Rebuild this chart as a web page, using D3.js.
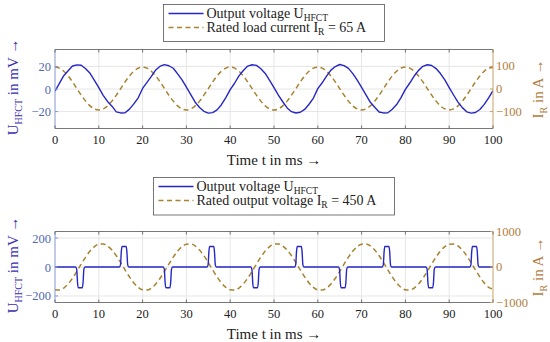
<!DOCTYPE html>
<html>
<head>
<meta charset="utf-8">
<script src="https://cdn.jsdelivr.net/npm/d3@7"></script>
<style>
  body { margin: 0; background: #fff; }
  svg { display: block; font-family: "Liberation Serif", serif; }
</style>
</head>
<body>
<svg id="chart" width="550" height="342"></svg>
<script>
// time grid in ms (x positions of the sampled curves)
var timeMs = d3.range(0, 101, 1);

// top panel: HFCT output voltage (mV), read every 1 ms
var voltageTop = [
  -2.0, 5.0, 11.8, 16.2, 20.4, 21.4, 21.0, 18.0, 13.9, 7.6, 1.2, -5.6, -11.0, -15.2, -20.3, -21.2, -21.0, -17.8, -13.2, -7.8,
  0.5, 5.8, 11.2, 16.9, 20.2, 21.6, 20.6, 18.4, 13.4, 8.1, 1.6, -5.0, -11.7, -16.4, -19.8, -21.4, -20.9, -18.5, -13.9, -7.6,
  -0.5, 5.1, 11.6, 16.4, 20.3, 21.5, 20.9, 17.9, 13.8, 7.7, 1.2, -5.4, -11.3, -16.8, -20.1, -21.3, -20.6, -18.1, -13.5, -8.0,
  0.3, 5.5, 11.4, 16.7, 19.9, 21.7, 20.7, 18.3, 13.6, 7.9, 1.5, -5.2, -11.8, -16.1, -20.4, -21.2, -21.0, -18.0, -13.8, -7.7,
  -0.4, 5.3, 11.5, 16.5, 20.1, 21.5, 20.8, 18.1, 13.7, 8.0, 1.3, -5.3, -11.6, -16.5, -20.2, -21.4, -20.8, -18.2, -13.6, -7.8,
  -1.5
];

// top panel: rated load current (A), read every 1 ms
var currentTop = [
  97, 92.3, 78.9, 57.8, 31.4, 2, -27.4, -53.8, -74.9, -88.3, -93, -88.3, -74.9, -53.8, -27.4, 2, 31.4, 57.8, 78.9, 92.3,
  97, 92.3, 78.9, 57.8, 31.4, 2, -27.4, -53.8, -74.9, -88.3, -93, -88.3, -74.9, -53.8, -27.4, 2, 31.4, 57.8, 78.9, 92.3,
  97, 92.3, 78.9, 57.8, 31.4, 2, -27.4, -53.8, -74.9, -88.3, -93, -88.3, -74.9, -53.8, -27.4, 2, 31.4, 57.8, 78.9, 92.3,
  97, 92.3, 78.9, 57.8, 31.4, 2, -27.4, -53.8, -74.9, -88.3, -93, -88.3, -74.9, -53.8, -27.4, 2, 31.4, 57.8, 78.9, 92.3,
  97, 92.3, 78.9, 57.8, 31.4, 2, -27.4, -53.8, -74.9, -88.3, -93, -88.3, -74.9, -53.8, -27.4, 2, 31.4, 57.8, 78.9, 92.3,
  95
];

// bottom panel: HFCT output voltage (mV), pulse corner points
var pulseTimes = [
  0,
  4.7, 4.95, 5.15, 5.3, 6.25, 6.4, 6.6, 6.85,
  14.7, 14.95, 15.15, 15.3, 16.25, 16.4, 16.6, 16.85,
  24.7, 24.95, 25.15, 25.3, 26.25, 26.4, 26.6, 26.85,
  34.7, 34.95, 35.15, 35.3, 36.25, 36.4, 36.6, 36.85,
  44.7, 44.95, 45.15, 45.3, 46.25, 46.4, 46.6, 46.85,
  54.7, 54.95, 55.15, 55.3, 56.25, 56.4, 56.6, 56.85,
  64.7, 64.95, 65.15, 65.3, 66.25, 66.4, 66.6, 66.85,
  74.7, 74.95, 75.15, 75.3, 76.25, 76.4, 76.6, 76.85,
  84.7, 84.95, 85.15, 85.3, 86.25, 86.4, 86.6, 86.85,
  94.7, 94.95, 95.15, 95.3, 96.25, 96.4, 96.6, 96.85,
  100
];
var pulseVolts = [
  0,
  0, -15, -110, -143, -143, -110, -15, 0,
  0, 15, 110, 141, 141, 110, 15, 0,
  0, -15, -110, -143, -143, -110, -15, 0,
  0, 15, 110, 141, 141, 110, 15, 0,
  0, -15, -110, -143, -143, -110, -15, 0,
  0, 15, 110, 141, 141, 110, 15, 0,
  0, -15, -110, -143, -143, -110, -15, 0,
  0, 15, 110, 141, 141, 110, 15, 0,
  0, -15, -110, -143, -143, -110, -15, 0,
  0, 15, 110, 141, 141, 110, 15, 0,
  0
];

// bottom panel: rated output current (A), read every 1 ms
var currentBottom = [
  -643, -650, -593, -477, -316, -123, 82, 279, 449, 574, 643, 650, 593, 477, 316, 123, -82, -279, -449, -574,
  -643, -650, -593, -477, -316, -123, 82, 279, 449, 574, 643, 650, 593, 477, 316, 123, -82, -279, -449, -574,
  -643, -650, -593, -477, -316, -123, 82, 279, 449, 574, 643, 650, 593, 477, 316, 123, -82, -279, -449, -574,
  -643, -650, -593, -477, -316, -123, 82, 279, 449, 574, 643, 650, 593, 477, 316, 123, -82, -279, -449, -574,
  -643, -650, -593, -477, -316, -123, 82, 279, 449, 574, 643, 650, 593, 477, 316, 123, -82, -279, -449, -574,
  -620
];

var xTicks = [0, 10, 20, 30, 40, 50, 60, 70, 80, 90, 100];
var leftTicksTop = [-20, 0, 20];
var rightTicksTop = [-100, 0, 100];
var leftTicksBottom = [-200, 0, 200];
var rightTicksBottom = [-1000, 0, 1000];

var BLUE = "#2626c6",
    BROWN = "#a8822e",
    LEFT_TXT = "#4f68b4",
    LEFT_LBL = "#3a30b0",
    LEFT_AX = "#8896cc",
    RIGHT_TXT = "#b07e40",
    RIGHT_AX = "#c9a266",
    FRAME = "#555",
    GRID = "#e6e6e6";

var svg = d3.select("#chart");
var x = d3.scaleLinear().domain([0, 100]).range([55, 493]);

function panel(o) {
  var yl = d3.scaleLinear().domain(o.leftDomain).range([o.bottom, o.top]);
  var yr = d3.scaleLinear().domain(o.rightDomain).range([o.bottom, o.top]);
  var g = svg.append("g");
  var x0 = x.range()[0], x1 = x.range()[1];

  // grid
  g.selectAll(".vg").data(xTicks.slice(1, -1)).enter().append("line")
    .attr("x1", d => x(d)).attr("x2", d => x(d))
    .attr("y1", o.top).attr("y2", o.bottom)
    .attr("stroke", GRID).attr("stroke-width", 1);
  g.selectAll(".hg").data(o.leftTicks).enter().append("line")
    .attr("x1", x0).attr("x2", x1)
    .attr("y1", d => yl(d)).attr("y2", d => yl(d))
    .attr("stroke", GRID).attr("stroke-width", 1);

  // curves
  var clipId = "clip" + o.top;
  svg.append("clipPath").attr("id", clipId).append("rect")
    .attr("x", x0).attr("y", o.top).attr("width", x1 - x0).attr("height", o.bottom - o.top);
  var cg = g.append("g").attr("clip-path", "url(#" + clipId + ")");

  cg.append("path")
    .datum(o.current.map((v, i) => [timeMs[i], v]))
    .attr("fill", "none").attr("stroke", BROWN).attr("stroke-width", 1.5)
    .attr("stroke-dasharray", "5,3.5")
    .attr("d", d3.line().x(d => x(d[0])).y(d => yr(d[1])).curve(d3.curveMonotoneX));

  cg.append("path")
    .datum(o.voltT.map((t, i) => [t, o.voltV[i]]))
    .attr("fill", "none").attr("stroke", BLUE).attr("stroke-width", 1.4)
    .attr("stroke-linejoin", "round")
    .attr("d", d3.line().x(d => x(d[0])).y(d => yl(d[1])).curve(o.voltCurve));

  // frame
  g.append("line").attr("x1", x0).attr("x2", x1).attr("y1", o.top).attr("y2", o.top)
    .attr("stroke", FRAME).attr("stroke-width", 0.8);
  g.append("line").attr("x1", x0).attr("x2", x1).attr("y1", o.bottom).attr("y2", o.bottom)
    .attr("stroke", FRAME).attr("stroke-width", 0.8);
  g.append("line").attr("x1", x0).attr("x2", x0).attr("y1", o.top).attr("y2", o.bottom)
    .attr("stroke", LEFT_AX).attr("stroke-width", 1);
  g.append("line").attr("x1", x1).attr("x2", x1).attr("y1", o.top).attr("y2", o.bottom)
    .attr("stroke", RIGHT_AX).attr("stroke-width", 1);

  // x ticks (inside, top and bottom) + labels
  xTicks.forEach(function (t) {
    g.append("line").attr("x1", x(t)).attr("x2", x(t)).attr("y1", o.bottom).attr("y2", o.bottom - 3)
      .attr("stroke", FRAME).attr("stroke-width", 0.8);
    g.append("line").attr("x1", x(t)).attr("x2", x(t)).attr("y1", o.top).attr("y2", o.top + 3)
      .attr("stroke", FRAME).attr("stroke-width", 0.8);
    g.append("text").attr("x", x(t)).attr("y", o.bottom + 15)
      .attr("text-anchor", "middle").attr("font-size", 12.5).attr("fill", "#222").text(t);
  });
  g.append("text").attr("x", (x0 + x1) / 2).attr("y", o.bottom + 36.5)
    .attr("text-anchor", "middle").attr("font-size", 15).attr("fill", "#222")
    .text("Time t in ms \u2192");

  // left y ticks
  var fmt = d3.format("d");
  o.leftTicks.forEach(function (v) {
    g.append("line").attr("x1", x0).attr("x2", x0 + 3).attr("y1", yl(v)).attr("y2", yl(v))
      .attr("stroke", LEFT_AX).attr("stroke-width", 1);
    g.append("text").attr("x", x0 - 4).attr("y", yl(v) + 4.5)
      .attr("text-anchor", "end").attr("font-size", 12.5).attr("fill", LEFT_TXT).text(fmt(v));
  });
  // right y ticks
  o.rightTicks.forEach(function (v) {
    g.append("line").attr("x1", x1).attr("x2", x1 - 3).attr("y1", yr(v)).attr("y2", yr(v))
      .attr("stroke", RIGHT_AX).attr("stroke-width", 1);
    g.append("text").attr("x", x1 + 3).attr("y", yr(v) + 4)
      .attr("text-anchor", "start").attr("font-size", 12.5).attr("fill", RIGHT_TXT).text(fmt(v));
  });

  // y axis titles
  var cy = (o.top + o.bottom) / 2;
  var lt = g.append("text").attr("transform", "translate(" + o.leftLabelX + "," + (cy - 2) + ") rotate(-90)")
    .attr("text-anchor", "middle").attr("font-size", 15).attr("fill", LEFT_LBL);
  lt.append("tspan").text("U");
  lt.append("tspan").attr("dy", 3.5).attr("font-size", 10).text("HFCT");
  lt.append("tspan").attr("dy", -3.5).text(" in mV \u2192");

  var rt = g.append("text").attr("transform", "translate(" + o.rightLabelX + "," + cy + ") rotate(-90)")
    .attr("text-anchor", "middle").attr("font-size", 15).attr("fill", RIGHT_TXT);
  rt.append("tspan").text("I");
  rt.append("tspan").attr("dy", 3.5).attr("font-size", 10).text("R");
  rt.append("tspan").attr("dy", -3.5).text(" in A \u2192");

  // legend
  var L = o.legend;
  g.append("rect").attr("x", L.x).attr("y", L.y).attr("width", L.w).attr("height", L.h)
    .attr("fill", "#fff").attr("stroke", "#555").attr("stroke-width", 0.8);
  var rows = [
    { color: BLUE, dash: null, main: "Output voltage U", sub: "HFCT", rest: "" },
    { color: BROWN, dash: "5,3.5", main: L.second, sub: "R", rest: L.secondRest }
  ];
  rows.forEach(function (r, i) {
    var ly = L.y + 9 + i * 14;
    g.append("line").attr("x1", L.x + 5).attr("x2", L.x + 40).attr("y1", ly).attr("y2", ly)
      .attr("stroke", r.color).attr("stroke-width", 1.5)
      .attr("stroke-dasharray", r.dash);
    var t = g.append("text").attr("x", L.x + 43).attr("y", ly + 4.5)
      .attr("font-size", 14).attr("fill", "#222");
    t.append("tspan").text(r.main);
    t.append("tspan").attr("dy", 3).attr("font-size", 9.5).text(r.sub);
    if (r.rest) t.append("tspan").attr("dy", -3).text(r.rest);
  });
}

panel({
  top: 49.5, bottom: 128.5,
  leftDomain: [-35, 35], rightDomain: [-175, 175],
  leftTicks: leftTicksTop, rightTicks: rightTicksTop,
  voltT: timeMs, voltV: voltageTop, voltCurve: d3.curveLinear,
  current: currentTop,
  leftLabelX: 18, rightLabelX: 543,
  legend: { x: 163.5, y: 4.5, w: 221, h: 37, second: "Rated load current I", secondRest: " = 65 A" }
});

panel({
  top: 231.5, bottom: 302.5,
  leftDomain: [-245, 245], rightDomain: [-1000, 1000],
  leftTicks: leftTicksBottom, rightTicks: rightTicksBottom,
  voltT: pulseTimes, voltV: pulseVolts, voltCurve: d3.curveMonotoneX,
  current: currentBottom,
  leftLabelX: 18, rightLabelX: 543,
  legend: { x: 153.5, y: 177.5, w: 241, h: 37.5, second: "Rated output voltage I", secondRest: " = 450 A" }
});
</script>
</body>
</html>
